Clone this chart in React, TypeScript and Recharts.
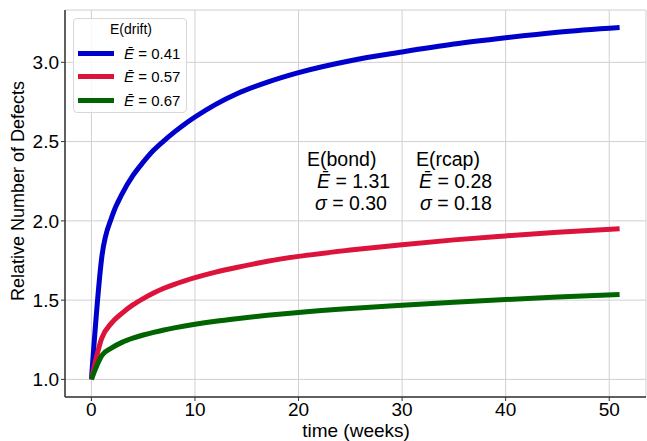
import { LineChart, Line, XAxis, YAxis, CartesianGrid } from 'recharts';

const weeks = [0, 1, 2, 3, 4, 5, 6, 7, 8, 9, 10, 12, 14, 17, 20, 25, 30, 35, 40, 45, 51];
const drift041 = [1.0, 1.77, 2.03, 2.175, 2.285, 2.37, 2.445, 2.505, 2.56, 2.61, 2.655, 2.735, 2.8, 2.875, 2.935, 3.01, 3.065, 3.115, 3.155, 3.19, 3.22];
const drift057 = [1.0, 1.26, 1.36, 1.42, 1.47, 1.51, 1.545, 1.575, 1.6, 1.622, 1.642, 1.677, 1.706, 1.745, 1.776, 1.816, 1.85, 1.88, 1.905, 1.928, 1.95];
const drift067 = [1.0, 1.15, 1.2, 1.235, 1.26, 1.28, 1.297, 1.312, 1.325, 1.337, 1.348, 1.367, 1.383, 1.404, 1.422, 1.447, 1.468, 1.487, 1.504, 1.519, 1.535];

const xTicks = [0, 10, 20, 30, 40, 50];
const yTicks = [1.0, 1.5, 2.0, 2.5, 3.0];

const series = [
    { key: 'a', label: '0.41', color: '#0000cc', values: drift041 },
    { key: 'b', label: '0.57', color: '#dc143c', values: drift057 },
    { key: 'c', label: '0.67', color: '#006400', values: drift067 },
];

const data = weeks.map((w, i) => {
    const row: any = { t: w };
    series.forEach((s) => (row[s.key] = s.values[i]));
    return row;
});

const font = 'Liberation Sans, Arial, sans-serif';
const frame = '#333333';

function Ebar() {
    return <span style={{ fontStyle: 'italic' }}>E&#772;</span>;
}

export default function App() {
    return (
        <div style={{ position: 'absolute', left: 0, top: 0, width: 647, height: 441, fontFamily: font, background: '#fff' }}>
            <LineChart width={647} height={441} data={data} margin={{ top: 10, right: 1, left: 0, bottom: 0 }}>
                <CartesianGrid stroke="#d0d0d0" strokeWidth={1} />
                <XAxis
                    dataKey="t"
                    type="number"
                    domain={[-2.55, 53.55]}
                    ticks={xTicks}
                    allowDataOverflow
                    height={44}
                    axisLine={{ stroke: frame, strokeWidth: 1.5 }}
                    tickLine={{ stroke: frame }}
                    tickSize={4}
                    tick={{ fill: '#000', fontSize: 19, fontFamily: font }}
                />
                <XAxis xAxisId="top" orientation="top" dataKey="t" type="number" domain={[-2.55, 53.55]} height={0} tick={false} tickLine={false} axisLine={{ stroke: frame, strokeWidth: 1.5 }} />
                <YAxis
                    type="number"
                    domain={[0.889, 3.33]}
                    ticks={yTicks}
                    allowDataOverflow
                    width={65}
                    axisLine={{ stroke: frame, strokeWidth: 1.5 }}
                    tickLine={{ stroke: frame }}
                    tickSize={4}
                    tickFormatter={(v: number) => v.toFixed(1)}
                    tick={{ fill: '#000', fontSize: 19, fontFamily: font }}
                />
                <YAxis yAxisId="right" orientation="right" domain={[0.889, 3.33]} width={0} tick={false} tickLine={false} axisLine={{ stroke: frame, strokeWidth: 1.5 }} />
                {series.map((s) => (
                    <Line
                        key={s.key}
                        dataKey={s.key}
                        type="monotone"
                        stroke={s.color}
                        strokeWidth={5}
                        dot={false}
                        isAnimationActive={false}
                    />
                ))}
            </LineChart>

            {/* legend */}
            <div
                style={{
                    position: 'absolute',
                    left: 73,
                    top: 18,
                    width: 114,
                    height: 95,
                    border: '1px solid #d8d8d8',
                    borderRadius: 4,
                    background: 'rgba(255,255,255,0.85)',
                    boxSizing: 'border-box',
                    fontSize: 15,
                }}
            >
                <div style={{ position: 'absolute', left: 0, width: 114, top: 2, textAlign: 'center', fontSize: 14 }}>E(drift)</div>
                {series.map((s, i) => (
                    <div key={s.key} style={{ position: 'absolute', left: 4, top: 25 + i * 23.5, height: 18, display: 'flex', alignItems: 'center' }}>
                        <div style={{ width: 36, height: 5, background: s.color }} />
                        <div style={{ marginLeft: 10, whiteSpace: 'nowrap' }}>
                            <Ebar /> = {s.label}
                        </div>
                    </div>
                ))}
            </div>

            {/* annotations */}
            <div style={{ position: 'absolute', left: 307, top: 148, fontSize: 19.5, lineHeight: '22px', whiteSpace: 'pre' }}>
                <div>E(bond)</div>
                <div style={{ paddingLeft: 10 }}><Ebar /> = 1.31</div>
                <div style={{ paddingLeft: 8 }}><span style={{ fontStyle: 'italic' }}>σ</span> = 0.30</div>
            </div>
            <div style={{ position: 'absolute', left: 416, top: 148, fontSize: 19.5, lineHeight: '22px', whiteSpace: 'pre' }}>
                <div>E(rcap)</div>
                <div style={{ paddingLeft: 3 }}><Ebar /> = 0.28</div>
                <div style={{ paddingLeft: 4 }}><span style={{ fontStyle: 'italic' }}>σ</span> = 0.18</div>
            </div>

            {/* axis titles */}
            <div style={{ position: 'absolute', left: 65, width: 582, top: 420, textAlign: 'center', fontSize: 19 }}>time (weeks)</div>
            <div
                style={{
                    position: 'absolute',
                    left: 18,
                    top: 191,
                    transform: 'translate(-50%, -50%) rotate(-90deg)',
                    fontSize: 18,
                    whiteSpace: 'nowrap',
                }}
            >
                Relative Number of Defects
            </div>
        </div>
    );
}
